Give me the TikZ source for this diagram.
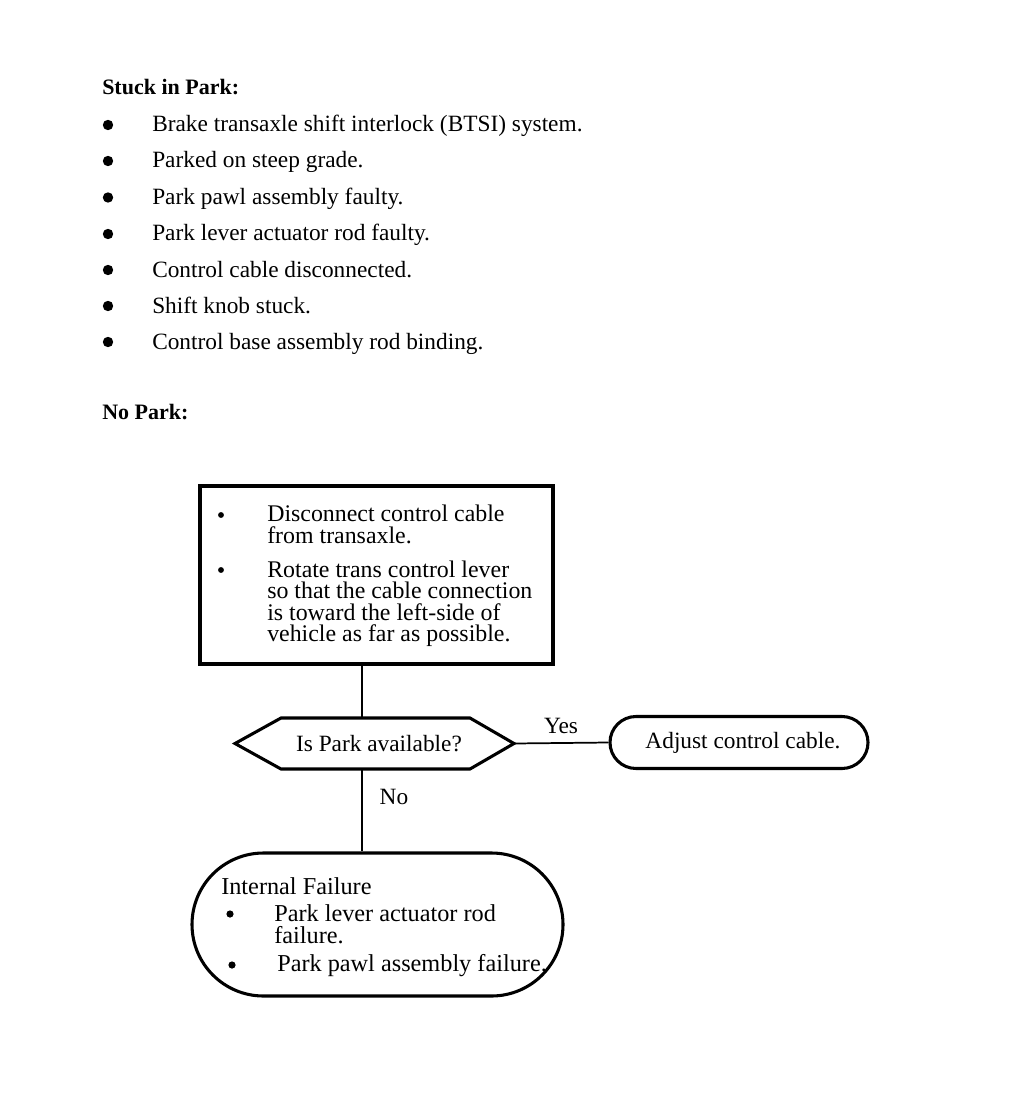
\documentclass[tikz,border=0pt]{standalone}
\usepackage{fontspec}
\setmainfont{Liberation Serif}
\usetikzlibrary{shapes.misc,calc}
\begin{document}
\begin{tikzpicture}[x=0.75pt,y=-0.75pt,
  txt/.style={anchor=base west, inner sep=0pt, font=\fontsize{17.5}{20}\selectfont},
  boxtxt/.style={txt, font=\fontsize{17.9}{20}\selectfont, text height=11.5pt, text depth=3pt},
  failtxt/.style={txt, font=\fontsize{18.2}{20}\selectfont, text height=11.5pt, text depth=3pt},
  lbl/.style={txt, anchor=base},
  head/.style={anchor=base west, inner sep=0pt, font=\fontsize{16.5}{20}\selectfont\bfseries},
  shapeline/.style={line width=2.3pt},
  conn/.style={line width=1.3pt},
  bigdot/.style={radius=3.9pt},
  smalldot/.style={radius=2.2pt},
  middot/.style={radius=2.7pt},
  procbox/.style={draw, shapeline, inner sep=0pt},
  term/.style={rounded rectangle, draw, shapeline, inner sep=0pt, font=\fontsize{17.5}{20}\selectfont}
]
\useasboundingbox[fill=white] (0,0) rectangle (1024,1116);

% ---- Stuck in Park list
\node[head] (h1) at (102,95) {Stuck in Park:};
\foreach \y/\t [count=\i] in {132/{Brake transaxle shift interlock (BTSI) system.},
  168/{Parked on steep grade.},
  204.5/{Park pawl assembly faulty.},
  241/{Park lever actuator rod faulty.},
  277/{Control cable disconnected.},
  313/{Shift knob stuck.},
  349/{Control base assembly rod binding.}}{
  \fill[bigdot] (108,\y-7) circle;
  \node[txt] (s\i) at (152,\y) {\t};
}

\node[head] (h2) at (102,419) {No Park:};

% ---- first box
\node[procbox, minimum width=264.75pt, minimum height=133.5pt] (box) at (376.5,575) {};
\fill[smalldot] (221,515) circle;
\fill[smalldot] (221,570) circle;
\node[boxtxt] (b1) at (267,521.5) {Disconnect control cable};
\node[boxtxt] (b2) at (267,543) {from transaxle.};
\node[boxtxt] (b3) at (267,577) {Rotate trans control lever};
\node[boxtxt] (b4) at (267,598.5) {so that the cable connection};
\node[boxtxt] (b5) at (267,620) {is toward the left-side of};
\node[boxtxt] (b6) at (267,641.5) {vehicle as far as possible.};

% ---- decision
\node[inner sep=0pt, minimum width=202.5pt, minimum height=38.25pt,
      font=\fontsize{17.5}{20}\selectfont] (dec) at (379,743.5) {Is Park available?};
\draw[shapeline, line join=miter] ($(dec)+(-144,0)$) -- ($(dec)+(-98,-25.5)$) -- ($(dec)+(91,-25.5)$)
   -- ($(dec)+(135,0)$) -- ($(dec)+(91,25.5)$) -- ($(dec)+(-98,25.5)$) -- cycle;
\coordinate (decR) at ($(dec)+(135,0)$);
\coordinate (v) at (362,0);

% ---- terminals
\node[term, minimum width=193.5pt, minimum height=39pt] (adj) at (739,742.5) {\hspace*{6pt}Adjust control cable.};
\node[term, minimum width=278.25pt, minimum height=107.25pt] (fail) at (377.5,924.5) {};
\node[failtxt] (f0) at (221,894.5) {Internal Failure};
\fill[middot] (230,914) circle;
\node[failtxt] (f1) at (274,921) {Park lever actuator rod};
\node[failtxt] (f2) at (274,943) {failure.};
\fill[middot] (232,965) circle;
\node[failtxt] (f3) at (277,971) {Park pawl assembly failure.};

% ---- connectors
\draw[conn] (box.south -| v) -- (v |- dec.north);
\draw[conn] (decR) -- (adj.west);
\draw[conn] (v |- dec.south) -- (v |- fail.north);
\node[lbl] (yes) at (561,733) {Yes};
\node[lbl] (no) at (394,804) {No};
\end{tikzpicture}
\end{document}
